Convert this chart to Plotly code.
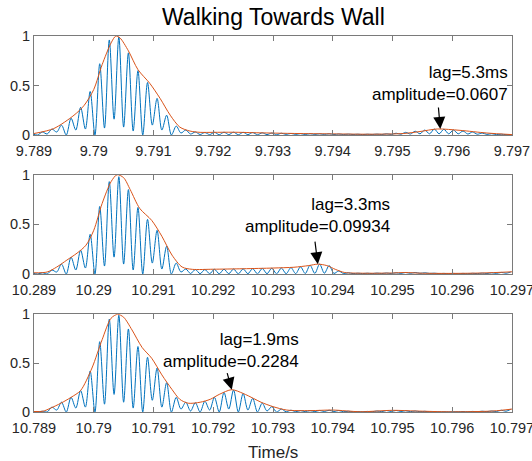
import numpy as np
import plotly.graph_objects as go

# ---------------- data ----------------
WINDOW_START = [9.789, 10.289, 10.789]          # s, left edge of each window
WINDOW_LEN_MS = 8.0
TICK_LABELS = [
    ["9.789", "9.79", "9.791", "9.792", "9.793", "9.794", "9.795", "9.796", "9.797"],
    ["10.289", "10.29", "10.291", "10.292", "10.293", "10.294", "10.295", "10.296", "10.297"],
    ["10.789", "10.79", "10.791", "10.792", "10.793", "10.794", "10.795", "10.796", "10.797"],
]

# correlation lobes: first lobe time and lobe spacing (ms from window start)
LOBE_START_MS = -0.02
LOBE_PERIOD_MS = 0.16

# blue: lobe peak values and trough values between consecutive lobes
P1_PEAKS = [0.01, 0.03, 0.06, 0.1, 0.17, 0.28, 0.44, 0.72, 0.96, 0.99, 0.83, 0.65, 0.53, 0.37, 0.2, 0.09, 0.05, 0.03,
            0.025, 0.027, 0.028, 0.028, 0.027, 0.025, 0.022, 0.02,
            0.018, 0.016, 0.014, 0.013, 0.012, 0.012,
            0.01, 0.009, 0.008, 0.008, 0.009, 0.012,
            0.018, 0.027, 0.038, 0.05, 0.06, 0.058, 0.05, 0.04, 0.03, 0.02, 0.013, 0.008, 0.005]
P1_TROUGHS = [0.0, 0.01, 0.03, 0.0, 0.05, 0.06, 0.0, 0.07, 0.16, 0.08, 0.04, 0.0, 0.1, 0.05, 0.0, 0.02, 0.01, 0.005,
              0.004, 0.003, 0.004, 0.003, 0.004, 0.003, 0.004, 0.003,
              0.006, 0.006, 0.005, 0.006, 0.006, 0.005, 0.005, 0.005, 0.004, 0.005, 0.005, 0.006,
              0.008, 0.01, 0.012, 0.012, 0.012, 0.012, 0.012, 0.01, 0.008, 0.006, 0.004, 0.003]
P2_PEAKS = [0.01, 0.012, 0.04, 0.1, 0.17, 0.24, 0.4, 0.68, 0.93, 0.98, 0.85, 0.67, 0.55, 0.44, 0.28, 0.11, 0.05, 0.045,
            0.045, 0.047, 0.048, 0.05, 0.052, 0.054, 0.056, 0.058, 0.06, 0.064,
            0.072, 0.088, 0.099, 0.085, 0.03, 0.012,
            0.008, 0.008, 0.009, 0.01, 0.012, 0.015, 0.015, 0.012, 0.008, 0.006, 0.006, 0.006, 0.007, 0.009, 0.012, 0.016, 0.02]
P2_TROUGHS = [0.0, 0.0, 0.02, 0.0, 0.04, 0.06, 0.0, 0.08, 0.17, 0.1, 0.04, 0.0, 0.11, 0.05, 0.0, 0.02, 0.005, 0.003,
              0.003, 0.002, 0.003, 0.002, 0.003, 0.002, 0.003, 0.002, 0.003, 0.004, 0.005, 0.006, 0.008, 0.006, 0.005, 0.004,
              0.004, 0.004, 0.005, 0.005, 0.006, 0.007, 0.007, 0.006, 0.004, 0.003, 0.003, 0.003, 0.004, 0.005, 0.006, 0.008]
P3_PEAKS = [0.005, 0.008, 0.05, 0.1, 0.15, 0.22, 0.42, 0.72, 0.95, 0.99, 0.85, 0.67, 0.56, 0.45, 0.3, 0.15, 0.1, 0.095,
            0.11, 0.15, 0.2, 0.225, 0.19, 0.14, 0.09, 0.055,
            0.03, 0.018, 0.014, 0.014, 0.016, 0.018, 0.015, 0.008,
            0.004, 0.006, 0.01, 0.015, 0.016, 0.013, 0.01, 0.007, 0.004, 0.002, 0.003, 0.005, 0.006, 0.008, 0.01, 0.018, 0.028]
P3_TROUGHS = [0.0, 0.0, 0.02, 0.0, 0.04, 0.05, 0.0, 0.08, 0.18, 0.1, 0.04, 0.0, 0.12, 0.05, 0.0, 0.03, 0.01, 0.0,
              0.02, 0.0, 0.03, 0.0, 0.02, 0.0, 0.01, 0.0,
              0.002, 0.003, 0.004, 0.004, 0.005, 0.005, 0.003, 0.002, 0.002, 0.003, 0.004, 0.005, 0.005, 0.004, 0.003, 0.002,
              0.001, 0.001, 0.002, 0.002, 0.003, 0.004, 0.005, 0.008]

# red: envelope (ms from window start, value)
P1_ENV_MS = [0, 0.33, 0.67, 0.84, 1.0, 1.14, 1.29, 1.37, 1.44, 1.58, 1.74, 1.94, 2.11, 2.28, 2.44, 2.61, 2.78, 3.0,
             3.33, 3.78, 4.3, 4.9, 5.62, 6.18, 6.46, 6.75, 7.13, 7.58, 8.0]
P1_ENV = [0.015, 0.065, 0.2, 0.3, 0.46, 0.71, 0.93, 1.0, 0.98, 0.85, 0.66, 0.52, 0.37, 0.2, 0.08, 0.04, 0.027, 0.027,
          0.028, 0.022, 0.016, 0.012, 0.008, 0.015, 0.035, 0.0607, 0.047, 0.02, 0.004]
P2_ENV_MS = [0, 0.22, 0.38, 0.55, 0.72, 0.87, 1.0, 1.14, 1.29, 1.39, 1.5, 1.61, 1.77, 1.97, 2.14, 2.31, 2.48, 2.65,
             3.0, 3.5, 4.0, 4.35, 4.6, 4.75, 4.9, 5.05, 5.2, 5.5, 6.0, 6.2, 6.5, 7.0, 7.5, 8.0]
P2_ENV = [0.012, 0.02, 0.07, 0.14, 0.21, 0.29, 0.44, 0.71, 0.93, 1.0, 0.97, 0.85, 0.66, 0.54, 0.38, 0.19, 0.07, 0.047,
          0.048, 0.053, 0.06, 0.068, 0.085, 0.0993, 0.085, 0.045, 0.015, 0.008, 0.01, 0.015, 0.008, 0.006, 0.01, 0.022]
P3_ENV_MS = [0, 0.15, 0.28, 0.45, 0.62, 0.78, 0.97, 1.14, 1.29, 1.4, 1.5, 1.64, 1.81, 1.97, 2.14, 2.31, 2.44, 2.58,
             2.78, 2.95, 3.1, 3.31, 3.5, 3.67, 3.8, 4.0, 4.23, 4.62, 5.0, 5.46, 6.0, 6.4, 6.96, 7.68, 8.0]
P3_ENV = [0.005, 0.008, 0.04, 0.09, 0.15, 0.22, 0.45, 0.74, 0.96, 1.0, 0.97, 0.84, 0.66, 0.55, 0.38, 0.23, 0.13, 0.09,
          0.1, 0.13, 0.18, 0.2284, 0.19, 0.14, 0.1, 0.055, 0.02, 0.014, 0.02, 0.003, 0.017, 0.01, 0.002, 0.01, 0.03]

# echo marker annotations
ECHO_MS = [6.8, 4.75, 3.31]
ECHO_AMP = [0.0607, 0.09934, 0.2284]
ECHO_LAG_TEXT = ["5.3", "3.3", "1.9"]
ECHO_AMP_TEXT = ["0.0607", "0.09934", "0.2284"]

PEAKS = [P1_PEAKS, P2_PEAKS, P3_PEAKS]
TROUGHS = [P1_TROUGHS, P2_TROUGHS, P3_TROUGHS]
ENV_MS = [P1_ENV_MS, P2_ENV_MS, P3_ENV_MS]
ENV = [P1_ENV, P2_ENV, P3_ENV]

# ---------------- styling ----------------
W, H = 532, 461
FONT = "Liberation Sans, Arial, sans-serif"
BLUE = "#0072BD"
RED = "#D95319"
AXC = "#7a7a7a"
TXT = "#262626"

X0, X1 = 34, 512
PANEL_PX = [(36, 135), (174.7, 274), (314.3, 412)]
TEXT_POS = [(510, 84), (391.5, 215.5), (300.5, 350.5)]   # right edge, middle (px)
ARROW_OFF = [(-2, -23), (-3, -24), (-5, -18)]

fig = go.Figure()
layout = {}
for i in range(3):
    n = "" if i == 0 else str(i + 1)
    t0 = WINDOW_START[i]
    lobe_ms = LOBE_START_MS + LOBE_PERIOD_MS * np.arange(len(PEAKS[i]))
    bx, by = [], []
    for j, pk in enumerate(PEAKS[i]):
        bx.append(t0 + lobe_ms[j] / 1000.0)
        by.append(pk)
        if j < len(TROUGHS[i]):
            bx.append(t0 + (lobe_ms[j] + LOBE_PERIOD_MS / 2) / 1000.0)
            by.append(TROUGHS[i][j])
    fig.add_trace(go.Scatter(x=bx, y=by, mode="lines", xaxis="x" + n, yaxis="y" + n,
                             line=dict(color=BLUE, width=1, shape="spline", smoothing=0.9),
                             showlegend=False, hoverinfo="skip"))
    ex = [t0 + m / 1000.0 for m in ENV_MS[i]]
    fig.add_trace(go.Scatter(x=ex, y=ENV[i], mode="lines", xaxis="x" + n, yaxis="y" + n,
                             line=dict(color=RED, width=1, shape="spline", smoothing=0.8),
                             showlegend=False, hoverinfo="skip"))

    top, bot = PANEL_PX[i]
    tickvals = [t0 + k * 0.001 for k in range(9)]
    layout["xaxis" + n] = dict(
        domain=[X0 / W, X1 / W], anchor="y" + n, automargin=False,
        range=[t0, t0 + WINDOW_LEN_MS / 1000.0],
        tickmode="array", tickvals=tickvals, ticktext=TICK_LABELS[i],
        ticks="inside", ticklen=5, tickwidth=1, tickcolor=AXC,
        showline=True, linecolor=AXC, linewidth=1, mirror="ticks",
        showgrid=False, zeroline=False, ticklabeloverflow="allow", ticklabelstandoff=3,
        tickfont=dict(family=FONT, size=14.5, color=TXT),
    )
    layout["yaxis" + n] = dict(
        domain=[(H - bot) / H, (H - top) / H], anchor="x" + n, automargin=False,
        range=[0, 1],
        tickmode="array", tickvals=[0, 0.5, 1], ticktext=["0", "0.5", "1"],
        ticks="inside", ticklen=5, tickwidth=1, tickcolor=AXC,
        showline=True, linecolor=AXC, linewidth=1, mirror="ticks",
        showgrid=False, zeroline=False, ticklabeloverflow="allow",
        tickfont=dict(family=FONT, size=14.5, color=TXT),
    )

annotations = []
for i in range(3):
    n = "" if i == 0 else str(i + 1)
    t0 = WINDOW_START[i]
    rx, my = TEXT_POS[i]
    annotations.append(dict(
        x=rx / W, y=(H - my) / H, xref="paper", yref="paper",
        xanchor="right", yanchor="middle", align="right", showarrow=False,
        text=f"lag={ECHO_LAG_TEXT[i]}ms<br>amplitude={ECHO_AMP_TEXT[i]}",
        font=dict(family=FONT, size=17, color="#000000"),
    ))
    axo, ayo = ARROW_OFF[i]
    annotations.append(dict(
        x=t0 + ECHO_MS[i] / 1000.0, y=ECHO_AMP[i], xref="x" + n, yref="y" + n,
        text="", showarrow=True, arrowhead=2, arrowsize=2, arrowwidth=1.2,
        arrowcolor="#000000", ax=axo, ay=ayo, standoff=0,
    ))

annotations.append(dict(
    x=273 / W, y=(H - 17) / H, xref="paper", yref="paper", xanchor="center", yanchor="middle",
    text="Walking Towards Wall", showarrow=False,
    font=dict(family=FONT, size=23, color="#000000"),
))
annotations.append(dict(
    x=273 / W, y=(H - 452) / H, xref="paper", yref="paper", xanchor="center", yanchor="middle",
    text="Time/s", showarrow=False,
    font=dict(family=FONT, size=17, color=TXT),
))

fig.update_layout(
    width=W, height=H, margin=dict(l=0, r=0, t=0, b=0, autoexpand=False),
    paper_bgcolor="white", plot_bgcolor="white",
    annotations=annotations, **layout,
)
fig.write_html("out.html", config={"displayModeBar": False},
               post_script="document.body.style.margin='0';document.body.style.overflow='hidden';")
